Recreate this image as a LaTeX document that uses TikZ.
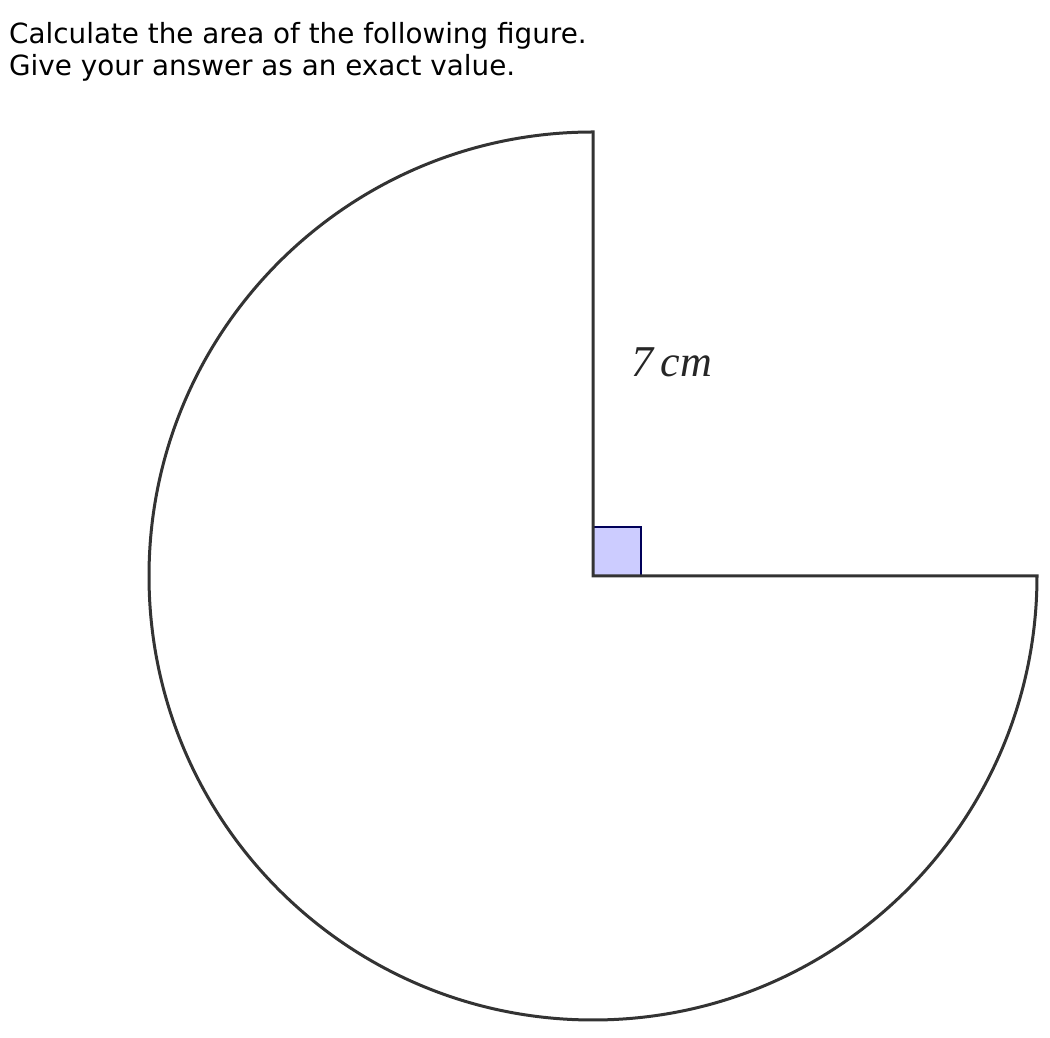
\documentclass[tikz,border=0pt]{standalone}
\usepackage{fontspec}
\setmainfont{DejaVu Sans}
\newfontfamily\labelfont{Liberation Serif}
\begin{document}
\begin{tikzpicture}[
  x=1pt, y=1pt,
  edge/.style={draw=black!80, line width=3pt, line join=miter},
  rightmark/.style={draw=blue!35!black, fill=blue!20, line width=2.6pt},
  question/.style={anchor=north west, align=left, inner sep=0pt,
                   font=\fontsize{27.8}{32.5}\selectfont},
]
\useasboundingbox (0,0) rectangle (1050,1038);
\coordinate (O) at (593,462);
\coordinate (top) at (593,906);
\coordinate (right) at (1037,462);
\node[question] (task) at (9,1016) {Calculate the area of the following figure.\\Give your answer as an exact value.};
\draw[rightmark] (O) rectangle ++(48,49);
\draw[edge] (top) arc[start angle=90, end angle=360, radius=444] -- (O) -- cycle;
\node[font=\labelfont\itshape\fontsize{44}{44}\selectfont, text=black!85] (radius) at (672,676) {7\,cm};
\end{tikzpicture}
\end{document}
